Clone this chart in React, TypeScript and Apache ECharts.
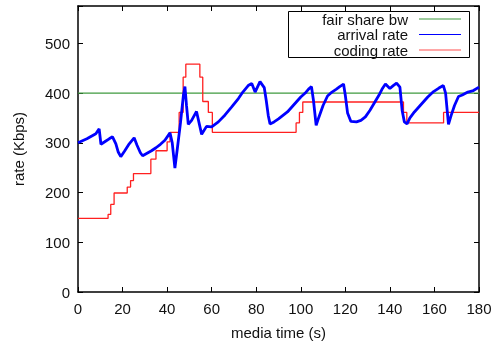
import React, { useEffect, useRef } from "react";
import * as echarts from "echarts";

const xTicks = [0, 20, 40, 60, 80, 100, 120, 140, 160, 180];
const yTicks = [0, 100, 200, 300, 400, 500];

const fairShare: [number, number][] = [
  [0, 400],
  [180, 400],
];

const codingRate: [number, number][] = [
  [0, 148], [13.5, 156], [14.7, 176], [16.2, 199], [22.1, 211], [23.6, 224],
  [24.9, 238], [32.7, 267], [35, 284], [40, 302], [41.3, 321], [45.4, 361],
  [47.2, 432], [48.4, 458], [54.7, 432], [56, 383], [58.5, 361], [60.3, 321],
  [97.9, 340], [99.4, 361], [100.9, 382], [146.1, 361], [147.6, 340],
  [164.1, 361], [180, 361],
];

const arrivalRate: [number, number][] = [
  [0, 300], [2, 304], [4, 308], [6, 313], [8, 318], [9.5, 328], [10.3, 297],
  [12, 302], [14, 308], [15.5, 312], [17, 298], [18, 282], [19.2, 272],
  [21, 284], [23, 298], [25.2, 310], [26.5, 295], [28, 280], [29, 274],
  [31, 279], [33, 284], [35, 290], [37, 297], [39, 305], [41.3, 320],
  [42.3, 300], [43.5, 249], [44.5, 285], [46, 340], [47.3, 395], [48, 413],
  [48.7, 375], [49.5, 337], [51, 345], [53.2, 363], [55.5, 317], [57.7, 333],
  [60, 332], [63, 342], [66, 356], [69, 372], [72, 389], [74, 402],
  [76.4, 415], [78, 419], [79.5, 402], [81.7, 423], [83.6, 411], [84.5, 385],
  [85.4, 355], [86.2, 338], [88, 342], [90, 348], [92, 355], [94, 362],
  [96, 372], [98, 382], [100, 392], [102, 400], [103.5, 408], [104.8, 413],
  [105.7, 385], [106.9, 335], [108, 350], [110, 375], [112, 394], [114, 402],
  [116, 408], [117.5, 413], [119.2, 418], [120, 395], [121, 360],
  [122.5, 343], [125, 342], [127, 345], [129, 352], [131, 365], [133, 380],
  [135, 395], [136.5, 408], [138, 418], [140, 409], [141.5, 415], [143, 420],
  [144.5, 412], [145.5, 365], [146.5, 342], [147.7, 338], [149, 350],
  [151, 362], [153, 372], [155, 382], [157, 392], [159.6, 403], [162, 410],
  [164, 415], [165, 400], [166.3, 337], [167.5, 355], [169, 375],
  [170.8, 393], [172.5, 396], [175, 402], [177.5, 405], [180, 412],
];

const legendNames = ["fair share bw", "arrival rate", "coding rate"];
const colors = ["#3f9a3f", "#0000ff", "#ff2020"];

export default function App() {
  const ref = useRef<HTMLDivElement>(null);
  useEffect(() => {
    if (!ref.current) return;
    const chart = echarts.init(ref.current, undefined, { renderer: "svg" });
    const font = "Liberation Sans, Arial, sans-serif";
    const fs = 15;
    const axisCommon = {
      type: "value" as const,
      splitLine: { show: false },
      axisLine: { show: true, onZero: false, lineStyle: { color: "#000", width: 1.5 } },
      axisTick: { show: true, inside: true, length: 5, lineStyle: { color: "#000", width: 1 } },
    };
    const legendRows = legendNames.map((n, i) => {
      const y = 19 + i * 15.5;
      return [
        {
          type: "text",
          style: {
            text: n,
            x: 408,
            y,
            align: "right",
            verticalAlign: "middle",
            fontFamily: font,
            fontSize: fs,
            fill: "#111",
          },
        },
        {
          type: "line",
          shape: { x1: 419, y1: y, x2: 461, y2: y },
          style: { stroke: i === 2 ? "#ff5050" : colors[i], lineWidth: 1.2 },
        },
      ];
    }).flat();
    chart.setOption({
      animation: false,
      grid: { left: 78, right: 17, top: 6, bottom: 48 },
      xAxis: [
        {
          ...axisCommon,
          position: "bottom",
          min: 0,
          max: 180,
          interval: 20,
          name: "media time (s)",
          nameLocation: "middle",
          nameGap: 33,
          nameTextStyle: { fontFamily: font, fontSize: fs, color: "#111" },
          axisLabel: {
            fontFamily: font,
            fontSize: fs,
            color: "#111",
            margin: 9,
            formatter: (v: number) => (xTicks.includes(v) ? String(v) : ""),
          },
        },
        {
          ...axisCommon,
          position: "top",
          min: 0,
          max: 180,
          interval: 20,
          axisLabel: { show: false },
        },
      ],
      yAxis: [
        {
          ...axisCommon,
          position: "left",
          min: 0,
          max: 575,
          interval: 100,
          name: "rate (Kbps)",
          nameLocation: "middle",
          nameGap: 52,
          nameRotate: 90,
          nameTextStyle: { fontFamily: font, fontSize: fs, color: "#111" },
          axisLabel: {
            fontFamily: font,
            fontSize: fs,
            color: "#111",
            margin: 8,
            formatter: (v: number) => (yTicks.includes(v) ? String(v) : ""),
          },
        },
        {
          ...axisCommon,
          position: "right",
          min: 0,
          max: 575,
          interval: 100,
          axisLabel: { show: false },
        },
      ],
      series: [
        {
          name: legendNames[0],
          type: "line",
          data: fairShare,
          showSymbol: false,
          lineStyle: { color: colors[0], width: 1.2 },
          z: 2,
        },
        {
          name: legendNames[2],
          type: "line",
          step: "end",
          data: codingRate,
          showSymbol: false,
          lineStyle: { color: colors[2], width: 1.3 },
          z: 3,
        },
        {
          name: legendNames[1],
          type: "line",
          data: arrivalRate,
          showSymbol: false,
          lineStyle: { color: colors[1], width: 2.8 },
          z: 4,
        },
      ],
      graphic: [
        {
          type: "rect",
          shape: { x: 288.5, y: 11.5, width: 181, height: 46 },
          style: { fill: "#fff", stroke: "#000", lineWidth: 1 },
          z: 10,
        },
        ...legendRows.map((e) => ({ ...e, z: 11 })),
      ],
    });
    return () => chart.dispose();
  }, []);
  return (
    <div
      ref={ref}
      style={{ position: "fixed", left: 0, top: 0, width: 496, height: 345 }}
    />
  );
}
